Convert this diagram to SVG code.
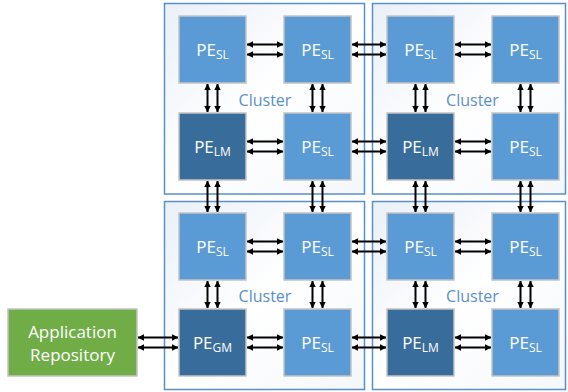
<svg xmlns="http://www.w3.org/2000/svg" width="568" height="392" viewBox="0 0 568 392">
<defs>
<linearGradient id="cg" x1="0" y1="0" x2="1" y2="1">
<stop offset="0" stop-color="#EAF0F8"/>
<stop offset="0.5" stop-color="#FFFFFF"/>
<stop offset="1" stop-color="#F4F7FB"/>
</linearGradient>
<marker id="ah" viewBox="0 0 8 8" refX="7.5" refY="4" markerWidth="3.2" markerHeight="3.2" orient="auto-start-reverse" markerUnits="strokeWidth">
<path d="M0,0 L8,4 L0,8 Z" fill="#000"/>
</marker>
<style>
.cl{fill:url(#cg);stroke:#5B8FC8;stroke-width:1.5}
.pe{fill:#5B9BD5;stroke:#C4C4C4;stroke-width:1.5}
.dk{fill:#386C9B;stroke:#C4C4C4;stroke-width:1.5}
.t{font-family:"Open Sans","Liberation Sans",sans-serif;fill:#fff;font-size:17px;text-anchor:middle}
.sub{font-size:12px}
.ct{font-family:"Open Sans","Liberation Sans",sans-serif;fill:#5B8FC8;font-size:16px;text-anchor:middle}
.a{stroke:#000;stroke-width:2;fill:none;marker-start:url(#ah);marker-end:url(#ah)}
</style>
</defs>
<rect width="568" height="392" fill="#fff"/>
<g id="clusters">
<g id="cluster-tl"><rect class="cl" x="164.5" y="3.5" width="200" height="190.5"/><text class="ct" x="265" y="106">Cluster</text></g>
<g id="cluster-tr"><rect class="cl" x="372.5" y="3.5" width="193" height="190.5"/><text class="ct" x="472.5" y="106">Cluster</text></g>
<g id="cluster-bl"><rect class="cl" x="164.5" y="201.5" width="200" height="188"/><text class="ct" x="265" y="302">Cluster</text></g>
<g id="cluster-br"><rect class="cl" x="372.5" y="201.5" width="193" height="188"/><text class="ct" x="472.5" y="302">Cluster</text></g>
</g>
<g id="connectors">
<!-- horizontal row 0 -->
<line class="a" x1="247" y1="44.5" x2="283" y2="44.5"/><line class="a" x1="247" y1="54.5" x2="283" y2="54.5"/>
<line class="a" x1="352" y1="44.5" x2="386" y2="44.5"/><line class="a" x1="352" y1="54.5" x2="386" y2="54.5"/>
<line class="a" x1="455" y1="44.5" x2="491" y2="44.5"/><line class="a" x1="455" y1="54.5" x2="491" y2="54.5"/>
<!-- row 1 -->
<line class="a" x1="247" y1="141.5" x2="283" y2="141.5"/><line class="a" x1="247" y1="151.5" x2="283" y2="151.5"/>
<line class="a" x1="352" y1="141.5" x2="386" y2="141.5"/><line class="a" x1="352" y1="151.5" x2="386" y2="151.5"/>
<line class="a" x1="455" y1="141.5" x2="491" y2="141.5"/><line class="a" x1="455" y1="151.5" x2="491" y2="151.5"/>
<!-- row 2 -->
<line class="a" x1="247" y1="241.5" x2="283" y2="241.5"/><line class="a" x1="247" y1="251.5" x2="283" y2="251.5"/>
<line class="a" x1="352" y1="241.5" x2="386" y2="241.5"/><line class="a" x1="352" y1="251.5" x2="386" y2="251.5"/>
<line class="a" x1="455" y1="241.5" x2="491" y2="241.5"/><line class="a" x1="455" y1="251.5" x2="491" y2="251.5"/>
<!-- row 3 -->
<line class="a" x1="138" y1="337.5" x2="178" y2="337.5"/><line class="a" x1="138" y1="347.5" x2="178" y2="347.5"/>
<line class="a" x1="247" y1="337.5" x2="283" y2="337.5"/><line class="a" x1="247" y1="347.5" x2="283" y2="347.5"/>
<line class="a" x1="352" y1="337.5" x2="386" y2="337.5"/><line class="a" x1="352" y1="347.5" x2="386" y2="347.5"/>
<line class="a" x1="455" y1="337.5" x2="491" y2="337.5"/><line class="a" x1="455" y1="347.5" x2="491" y2="347.5"/>
<!-- vertical rows 0-1 -->
<line class="a" x1="207.5" y1="84" x2="207.5" y2="112"/><line class="a" x1="217.5" y1="84" x2="217.5" y2="112"/>
<line class="a" x1="312.5" y1="84" x2="312.5" y2="112"/><line class="a" x1="322.5" y1="84" x2="322.5" y2="112"/>
<line class="a" x1="415.5" y1="84" x2="415.5" y2="112"/><line class="a" x1="425.5" y1="84" x2="425.5" y2="112"/>
<line class="a" x1="520.5" y1="84" x2="520.5" y2="112"/><line class="a" x1="530.5" y1="84" x2="530.5" y2="112"/>
<!-- rows 1-2 -->
<line class="a" x1="207.5" y1="181" x2="207.5" y2="212"/><line class="a" x1="217.5" y1="181" x2="217.5" y2="212"/>
<line class="a" x1="312.5" y1="181" x2="312.5" y2="212"/><line class="a" x1="322.5" y1="181" x2="322.5" y2="212"/>
<line class="a" x1="415.5" y1="181" x2="415.5" y2="212"/><line class="a" x1="425.5" y1="181" x2="425.5" y2="212"/>
<line class="a" x1="520.5" y1="181" x2="520.5" y2="212"/><line class="a" x1="530.5" y1="181" x2="530.5" y2="212"/>
<!-- rows 2-3 -->
<line class="a" x1="207.5" y1="281" x2="207.5" y2="308"/><line class="a" x1="217.5" y1="281" x2="217.5" y2="308"/>
<line class="a" x1="312.5" y1="281" x2="312.5" y2="308"/><line class="a" x1="322.5" y1="281" x2="322.5" y2="308"/>
<line class="a" x1="415.5" y1="281" x2="415.5" y2="308"/><line class="a" x1="425.5" y1="281" x2="425.5" y2="308"/>
<line class="a" x1="520.5" y1="281" x2="520.5" y2="308"/><line class="a" x1="530.5" y1="281" x2="530.5" y2="308"/>
</g>
<g id="pe-00"><rect class="pe" x="179" y="16" width="67" height="67"/><text class="t" x="212.5" y="55.5">PE<tspan class="sub" dy="3">SL</tspan></text></g>
<g id="pe-01"><rect class="pe" x="284" y="16" width="67" height="67"/><text class="t" x="317.5" y="55.5">PE<tspan class="sub" dy="3">SL</tspan></text></g>
<g id="pe-02"><rect class="pe" x="387" y="16" width="67" height="67"/><text class="t" x="420.5" y="55.5">PE<tspan class="sub" dy="3">SL</tspan></text></g>
<g id="pe-03"><rect class="pe" x="492" y="16" width="67" height="67"/><text class="t" x="525.5" y="55.5">PE<tspan class="sub" dy="3">SL</tspan></text></g>
<g id="pe-10"><rect class="dk" x="179" y="113" width="67" height="67"/><text class="t" x="212.5" y="152.5">PE<tspan class="sub" dy="3">LM</tspan></text></g>
<g id="pe-11"><rect class="pe" x="284" y="113" width="67" height="67"/><text class="t" x="317.5" y="152.5">PE<tspan class="sub" dy="3">SL</tspan></text></g>
<g id="pe-12"><rect class="dk" x="387" y="113" width="67" height="67"/><text class="t" x="420.5" y="152.5">PE<tspan class="sub" dy="3">LM</tspan></text></g>
<g id="pe-13"><rect class="pe" x="492" y="113" width="67" height="67"/><text class="t" x="525.5" y="152.5">PE<tspan class="sub" dy="3">SL</tspan></text></g>
<g id="pe-20"><rect class="pe" x="179" y="213" width="67" height="67"/><text class="t" x="212.5" y="252.5">PE<tspan class="sub" dy="3">SL</tspan></text></g>
<g id="pe-21"><rect class="pe" x="284" y="213" width="67" height="67"/><text class="t" x="317.5" y="252.5">PE<tspan class="sub" dy="3">SL</tspan></text></g>
<g id="pe-22"><rect class="pe" x="387" y="213" width="67" height="67"/><text class="t" x="420.5" y="252.5">PE<tspan class="sub" dy="3">SL</tspan></text></g>
<g id="pe-23"><rect class="pe" x="492" y="213" width="67" height="67"/><text class="t" x="525.5" y="252.5">PE<tspan class="sub" dy="3">SL</tspan></text></g>
<g id="pe-30"><rect class="dk" x="179" y="309" width="67" height="67"/><text class="t" x="212.5" y="348.5">PE<tspan class="sub" dy="3">GM</tspan></text></g>
<g id="pe-31"><rect class="pe" x="284" y="309" width="67" height="67"/><text class="t" x="317.5" y="348.5">PE<tspan class="sub" dy="3">SL</tspan></text></g>
<g id="pe-32"><rect class="dk" x="387" y="309" width="67" height="67"/><text class="t" x="420.5" y="348.5">PE<tspan class="sub" dy="3">LM</tspan></text></g>
<g id="pe-33"><rect class="pe" x="492" y="309" width="67" height="67"/><text class="t" x="525.5" y="348.5">PE<tspan class="sub" dy="3">SL</tspan></text></g>
<g id="app-repo"><rect x="8" y="309" width="129" height="67" fill="#70AD47" stroke="#C4C4C4" stroke-width="1.5"/><text class="t" x="72.5" y="338" font-size="16.5">Application</text><text class="t" x="72.5" y="361" font-size="16.5">Repository</text></g>
</svg>
